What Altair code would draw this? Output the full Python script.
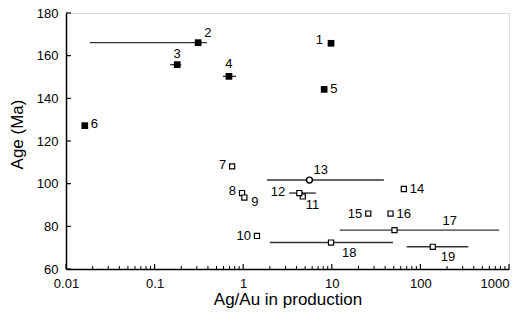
import altair as alt
import pandas as pd

# ---- data ----
ids = list(range(1, 20))
ratio = [9.8, 0.31, 0.18, 0.69, 8.2, 0.0163, 0.75, 0.97, 1.03, 1.43,
         4.7, 4.3, 5.6, 65, 25.8, 46, 51, 9.8, 138]
age = [165.8, 166.1, 155.8, 150.3, 144.2, 127.2, 108.1, 95.6, 93.5, 75.5,
       94.0, 95.6, 101.7, 97.5, 86.0, 86.0, 78.2, 72.4, 70.4]
kind = ["filled"] * 6 + ["open"] * 6 + ["circle"] + ["open"] * 6
err_lo = [None, 0.0186, 0.15, 0.59, None, None, None, None, None, None,
          None, 3.3, 1.85, None, None, None, 12.3, 2.0, 70]
err_hi = [None, 0.39, 0.2, 0.83, None, None, None, None, None, None,
          None, 6.6, 38.7, None, None, None, 773, 49, 347]

x_major = [0.01, 0.1, 1, 10, 100, 1000]
y_major = [60, 80, 100, 120, 140, 160, 180]

df = pd.DataFrame({"id": ids, "ratio": ratio, "age": age, "kind": kind,
                   "lo": err_lo, "hi": err_hi})
df["label"] = df["id"].astype(str)

x_minor = [k * 10.0 ** e for e in range(-2, 3) for k in range(2, 10)]

W, H = 443, 256
FONT = "Liberation Sans"

xscale = alt.Scale(type="log", domain=[0.01, 1000], nice=False)
yscale = alt.Scale(domain=[60, 180], nice=False, zero=False)

xaxis = alt.Axis(title="Ag/Au in production", values=x_major, format="~g",
                 grid=False, ticks=False, labelPadding=8, titlePadding=1,
                 labelAlign={"expr": "datum.value >= 1000 ? 'right' : 'center'"},
                 labelFontSize=13, titleFontSize=17, labelFont=FONT, titleFont=FONT,
                 labelColor="black", titleColor="black", titleFontWeight="normal",
                 domain=True, domainColor="black", domainWidth=1.5,
                 labelFlush=False, labelOverlap=False)
yaxis = alt.Axis(title="Age (Ma)", values=y_major, grid=False, ticks=False,
                 labelPadding=8, titlePadding=10, titleY=121,
                 labelFontSize=13, titleFontSize=17,
                 labelFont=FONT, titleFont=FONT, labelColor="black", titleColor="black",
                 titleFontWeight="normal", domain=True, domainColor="black",
                 domainWidth=1.5)

X = lambda f: alt.X(f, scale=xscale, axis=xaxis)
Y = lambda f: alt.Y(f, scale=yscale, axis=yaxis)

base = alt.Chart(df)

bars = base.transform_filter("isValid(datum.lo)").mark_rule(
    color="#333333", strokeWidth=1.4
).encode(x=X("lo:Q"), x2="hi:Q", y=Y("age:Q"))

filled_pts = base.transform_filter("datum.kind == 'filled'").mark_point(
    shape="square", filled=True, size=45, color="black", opacity=1
).encode(x=X("ratio:Q"), y=Y("age:Q"))

open_pts = base.transform_filter("datum.kind == 'open'").mark_point(
    shape="square", filled=False, size=26, stroke="black", fill="white",
    fillOpacity=1, strokeWidth=1.2, opacity=1
).encode(x=X("ratio:Q"), y=Y("age:Q"))

circ_pts = base.transform_filter("datum.kind == 'circle'").mark_point(
    shape="circle", filled=False, size=34, stroke="black", fill="white",
    fillOpacity=1, strokeWidth=1.4, opacity=1
).encode(x=X("ratio:Q"), y=Y("age:Q"))

# label placement (style, not data): id -> (dx, dy, align)
label_style = {
    1: (-8, -3, "right"), 2: (6, -10, "left"), 3: (0, -11, "center"),
    4: (0, -12, "center"), 5: (6, 0, "left"), 6: (6, -2, "left"),
    7: (-6, -1, "right"), 8: (-6, -2, "right"), 9: (7, 4, "left"),
    10: (-6, 0, "right"), 11: (3, 9, "left"), 12: (-14, -1, "right"),
    13: (4, -10, "left"), 14: (6, 0, "left"), 15: (-6, 0, "right"),
    16: (6, 0, "left"), 17: (48, -9, "left"), 18: (11, 10, "left"),
    19: (8, 10, "left"),
}
labels = []
for i, (dx, dy, al) in label_style.items():
    labels.append(
        base.transform_filter(f"datum.id == {i}").mark_text(
            dx=dx, dy=dy, align=al, baseline="middle", fontSize=13, font=FONT,
            color="black"
        ).encode(x=X("ratio:Q"), y=Y("age:Q"), text="label:N")
    )

xt_major = alt.Chart(pd.DataFrame({"ratio": x_major})).mark_rule(
    color="black", strokeWidth=1.2
).encode(x=X("ratio:Q"), y=alt.value(H), y2=alt.value(H - 5))
xt_minor = alt.Chart(pd.DataFrame({"ratio": x_minor})).mark_rule(
    color="black", strokeWidth=1
).encode(x=X("ratio:Q"), y=alt.value(H), y2=alt.value(H - 3))
yt_major = alt.Chart(pd.DataFrame({"age": y_major})).mark_rule(
    color="black", strokeWidth=1.2
).encode(y=Y("age:Q"), x=alt.value(0), x2=alt.value(5))

chart = alt.layer(
    bars, filled_pts, open_pts, circ_pts, xt_major, xt_minor, yt_major, *labels
).properties(
    width=W, height=H,
    autosize=alt.AutoSizeParams(type="none"),
    padding={"left": 58, "top": 5, "right": 1, "bottom": 39},
).configure_view(stroke=None).configure(background="white")

chart.save("out.html", embed_options={"renderer": "svg", "actions": False})
